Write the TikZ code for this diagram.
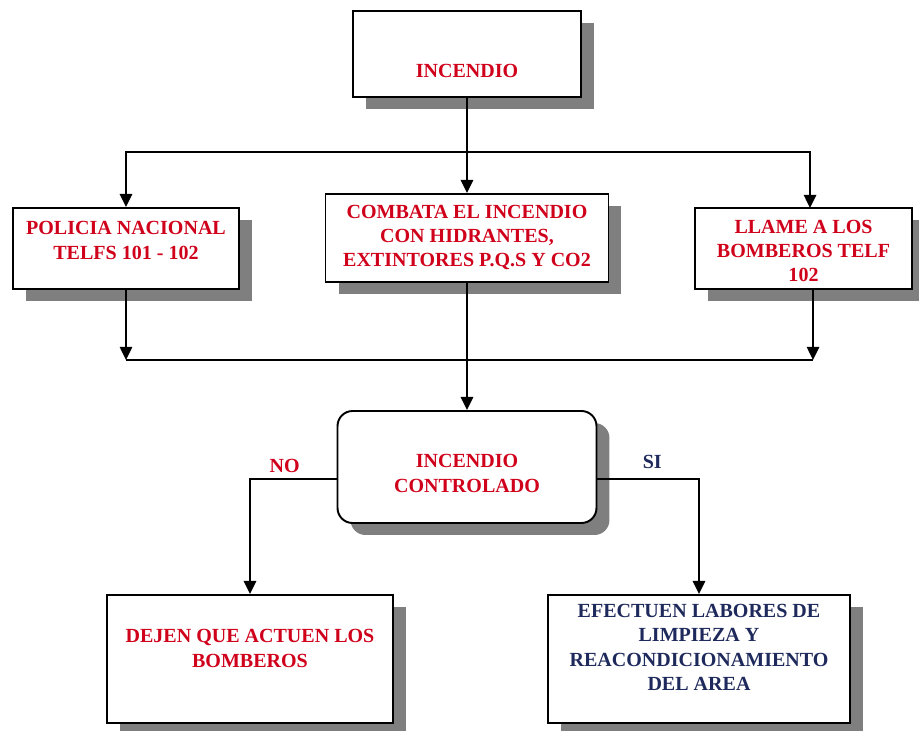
\documentclass[tikz,border=0pt]{standalone}
\usepackage{fontspec}
\setmainfont{Liberation Serif}
\usetikzlibrary{arrows.meta,shadows}
\definecolor{textred}{HTML}{D0021B}
\definecolor{textnavy}{HTML}{1F2A5C}
\definecolor{shadowgray}{HTML}{7F7F7F}

\begin{document}
\begin{tikzpicture}[x=0.02cm, y=-0.02cm, >={Triangle[length=7.5pt,width=7pt]},
    font=\bfseries\fontsize{11.4}{13.8}\selectfont,
    box/.style={draw, line width=1.1pt, fill=white,
        drop shadow={shadow xshift=0.26cm, shadow yshift=-0.24cm, fill=shadowgray, opacity=1}},
    boxtext/.style={textred, align=center, inner sep=0pt},
    link/.style={line width=1.2pt}]

    \useasboundingbox (0,0) rectangle (919,730);

    % Boxes
    \node[box, minimum width=4.56cm, minimum height=1.72cm] (incendio) at (467,54) {};
    \node[box, minimum width=4.52cm, minimum height=1.62cm] (policia) at (126,248.5) {};
    \node[box, minimum width=5.66cm, minimum height=1.76cm] (combata) at (467,238) {};
    \node[box, minimum width=4.34cm, minimum height=1.62cm] (llame) at (803.5,248.5) {};
    \node[box, rounded corners=0.3cm, minimum width=5.18cm, minimum height=2.24cm] (controlado) at (467,467) {};
    \node[box, minimum width=5.72cm, minimum height=2.56cm] (dejen) at (250,659) {};
    \node[box, minimum width=6.04cm, minimum height=2.56cm] (efectuen) at (699,659) {};

    % Texts
    \node[boxtext] (incendio-t) at (467,71) {INCENDIO};
    \node[boxtext] (policia-t) at (126,240.5) {POLICIA NACIONAL\\TELFS 101 - 102};
    \node[boxtext] (combata-t) at (467,237.5) {COMBATA EL INCENDIO\\CON HIDRANTES,\\EXTINTORES P.Q.S Y CO2};
    \node[boxtext] (llame-t) at (803.5,251) {LLAME A LOS\\BOMBEROS TELF\\102};
    \node[boxtext] (controlado-t) at (467,473.5) {INCENDIO\\CONTROLADO};
    \node[boxtext] (dejen-t) at (250,648.5) {DEJEN QUE ACTUEN LOS\\BOMBEROS};
    \node[boxtext, textnavy] (efectuen-t) at (699,647.5) {EFECTUEN LABORES DE\\LIMPIEZA Y\\REACONDICIONAMIENTO\\DEL AREA};

    % Connectors
    \coordinate (split) at (467,152);
    \coordinate (merge) at (467,360);
    \coordinate (llame-in) at (810,208);
    \coordinate (llame-out) at (813,289);
    \draw[link] (incendio) -- (split);
    \draw[link, ->] (split) -| (policia);
    \draw[link, ->] (split) -- (combata);
    \draw[link, ->] (split) -| (llame-in);
    \draw[link, ->] (policia) -- (policia |- merge);
    \draw[link, ->] (llame-out) -- (llame-out |- merge);
    \draw[link] (policia |- merge) -- (llame-out |- merge);
    \draw[link, ->] (combata) -- (controlado);
    \draw[link, ->] ([yshift=-0.24cm]controlado.west) -| (dejen)
        node[pos=0.3, above, textred, inner sep=3pt] (no) {NO};
    \draw[link, ->] ([yshift=-0.24cm]controlado.east) -| (efectuen)
        node[pos=0.27, above, textnavy, inner sep=5.5pt] (si) {SI};

\end{tikzpicture}
\end{document}
